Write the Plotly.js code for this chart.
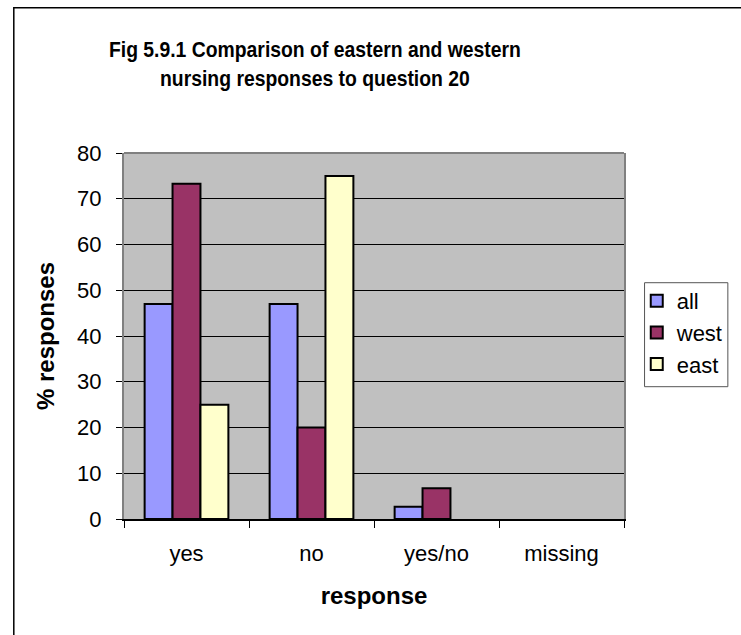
<!DOCTYPE html>
<html>
<head>
<meta charset="utf-8">
<script src="https://cdn.plot.ly/plotly-3.0.1.min.js"></script>
<style>
html,body{margin:0;padding:0;background:#fff;}
#chart{width:741px;height:635px;}
#chart .gtitle{transform-box:fill-box;transform-origin:center;transform:scaleX(0.88);}
</style>
</head>
<body>
<div id="chart"></div>
<script>
const categories = ["yes", "no", "yes/no", "missing"];
const allValues = [47, 47, 2.7, 0];
const westValues = [73.3, 20, 6.7, 0];
const eastValues = [25, 75, 0, 0];
const seriesNames = ["all", "west", "east"];
const yTicks = [0, 10, 20, 30, 40, 50, 60, 70, 80];

const colors = ["#9999FF", "#993366", "#FFFFCC"];
const FONT = "Arial, 'Liberation Sans', sans-serif";

const traces = [allValues, westValues, eastValues].map((vals, i) => ({
  type: "bar",
  x: categories,
  y: vals,
  name: seriesNames[i],
  legendgroup: seriesNames[i],
  marker: {color: colors[i], line: {color: "#000", width: vals.map(v => v > 0 ? 2 : 0)}},
  hoverinfo: "x+y+name"
}));

const layout = {
  width: 741,
  height: 635,
  paper_bgcolor: "#ffffff",
  plot_bgcolor: "#C0C0C0",
  margin: {l: 123.5, r: 107, t: 153, b: 116, pad: 0},
  barmode: "group",
  bargap: 0.33,
  bargroupgap: 0,
  font: {family: FONT, size: 20, color: "#000"},
  showlegend: true,
  title: {
    text: "Fig 5.9.1 Comparison of eastern and western<br>nursing responses to question 20",
    font: {family: FONT, size: 22, color: "#000", weight: "bold"},
    x: 0.425, xanchor: "center",
    y: 0.91, yanchor: "top",
    xref: "container", yref: "container"
  },
  xaxis: {
    type: "category",
    showgrid: false,
    showline: true, linecolor: "#000", linewidth: 1.5,
    ticks: "outside", tickson: "boundaries", ticklen: 7, tickcolor: "#000", tickwidth: 1,
    ticklabelstandoff: 14,
    tickfont: {family: FONT, size: 22, color: "#000"},
    title: {text: "response", font: {family: FONT, size: 24, color: "#000", weight: "bold"}, standoff: 22},
    fixedrange: true
  },
  yaxis: {
    range: [0, 80],
    tickvals: yTicks,
    ticktext: yTicks.map(String),
    showgrid: true, gridcolor: "#000", gridwidth: 1,
    zeroline: false,
    showline: true, linecolor: "#808080", linewidth: 2, mirror: true,
    ticks: "outside", ticklen: 6, tickcolor: "#000", tickwidth: 1,
    ticklabelstandoff: 10,
    tickfont: {family: FONT, size: 22, color: "#000"},
    title: {text: "% responses", font: {family: FONT, size: 24, color: "#000", weight: "bold"}, standoff: 16},
    fixedrange: true
  },
  legend: {
    x: 1.0255, xanchor: "left",
    y: 0.653, yanchor: "top",
    bgcolor: "rgba(0,0,0,0)",
    borderwidth: 0,
    font: {family: FONT, size: 22, color: "#000"},
    traceorder: "normal",
    tracegroupgap: 13.5,
    itemwidth: 30
  },
  shapes: [
    {type: "line", xref: "paper", yref: "paper", x0: 0, x1: 1, y0: 1, y1: 1,
     line: {color: "#808080", width: 2}},
    {type: "rect", xref: "paper", yref: "paper", x0: -0.2204, x1: 1.5, y0: -1, y1: 1.397,
     line: {color: "#000", width: 1.5}, fillcolor: "rgba(0,0,0,0)", layer: "above"},
    {type: "rect", xref: "paper", yref: "paper", x0: 1.0411, x1: 1.2077, y0: 0.3615, y1: 0.6456,
     line: {color: "#555555", width: 1}, fillcolor: "#ffffff", layer: "above"}
  ]
};

Plotly.newPlot("chart", traces, layout, {displayModeBar: false, staticPlot: true});
</script>
</body>
</html>
